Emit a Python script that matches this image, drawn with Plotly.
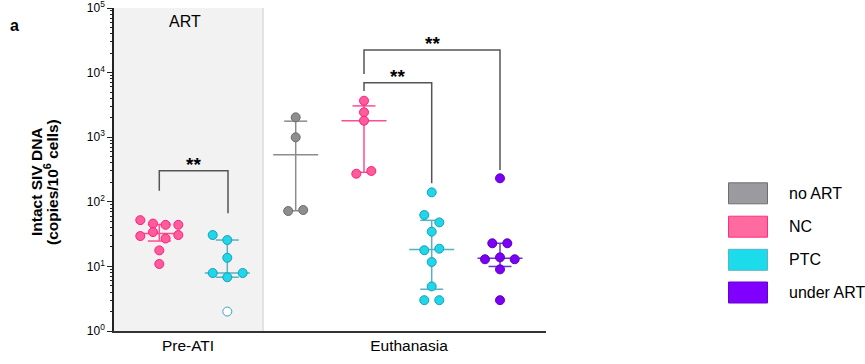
import numpy as np
import plotly.graph_objects as go

# Intact SIV DNA (copies per 10^6 cells) for each animal
nc_pre = [52, 46, 44, 44, 29.5, 34, 27, 30.6, 17.7, 10.9]
ptc_pre = [30.6, 25.6, 13.6, 7.9, 6.8, 7.9, 2.0]
ptc_pre_below_lod = [False, False, False, False, False, False, True]
noart_euth = [2030, 996, 72, 74.6]
nc_euth = [3670, 2430, 1800, 272, 300]
ptc_euth = [140, 62.5, 48, 34.5, 17.8, 18.8, 11.7, 4.9, 3.0, 3.0]
underart_euth = [231, 22.8, 22.8, 12.9, 13.8, 12.9, 9.0, 3.0]

timepoints = ["Pre-ATI", "Euthanasia"]
group_names = ["no ART", "NC", "PTC", "under ART"]
shade_label = "ART"
panel_label = "a"
y_title = ["Intact SIV DNA", "(copies/10<sup>6</sup> cells)"]
y_tickvals = [1, 10, 100, 1000, 10000, 100000]
y_ticktext = ["10<sup>%d</sup>" % i for i in range(6)]
sig_labels = ["**", "**", "**"]

# ---- styling / layout ----
FONT = "Liberation Sans, Arial, sans-serif"
W, H = 865, 364
L, R, T, B = 114, 546, 8, 331          # plot area in pixels
PW, PH = R - L, B - T
Y_RANGE = [0, 5.000001]                # 10^0 .. 10^5 (log10 units)

STYLE = {
    "no ART":    dict(fill="#8e8e8e", edge="#6c6c6c", line="#8c8c8c",
                      box="#9b9b9f", boxedge="#6e6e72"),
    "NC":        dict(fill="#ff5c9d", edge="#ff1f7a", line="#ff4d94",
                      box="#ff6b9e", boxedge="#ff2e85"),
    "PTC":       dict(fill="#1fd6ea", edge="#1a9fb6", line="#55b2c2",
                      box="#1cdcec", boxedge="#5ab4c4"),
    "under ART": dict(fill="#7b00f5", edge="#5c00c0", line="#6b34c4",
                      box="#7f00ff", boxedge="#6600cc"),
}


def px_x(p):
    return p - L


def paper_x(p):
    return (p - L) / PW


def paper_y(p):
    return (B - p) / PH


# column centres (pixels) and swarm offsets (pixels)
columns = [
    dict(name="NC", vals=nc_pre, cx=159.3,
         dx=[-19, -6.3, 6.3, 19, -19, -6.3, 6.3, 19, 0, 0]),
    dict(name="PTC", vals=ptc_pre, cx=227.3,
         dx=[-14.6, 0, 0, -14.6, 0, 15.4, 0], hollow=ptc_pre_below_lod),
    dict(name="no ART", vals=noart_euth, cx=295.7, dx=[0, 0, -7.5, 7.5]),
    dict(name="NC", vals=nc_euth, cx=364.0, dx=[0, 0, 0, -7.7, 7.3]),
    dict(name="PTC", vals=ptc_euth, cx=431.7,
         dx=[0, -7.4, 7.6, 0, -7.4, 7.6, 0, 0, -7.4, 7.6]),
    dict(name="under ART", vals=underart_euth, cx=500.0,
         dx=[0, -7.7, 7.3, -15, 0, 14.7, 0, 0]),
]

MED_HALF, CAP_HALF = 22.5, 11.5

fig = go.Figure()

for col in columns:
    st = STYLE[col["name"]]
    c = px_x(col["cx"])
    v = np.asarray(col["vals"], dtype=float)
    q1, med, q3 = np.percentile(v, [25, 50, 75], method="weibull")
    # median with interquartile range
    xs = [c - MED_HALF, c + MED_HALF, None,
          c - CAP_HALF, c + CAP_HALF, None,
          c - CAP_HALF, c + CAP_HALF, None,
          c, c]
    ys = [med, med, None, q3, q3, None, q1, q1, None, q1, q3]
    fig.add_trace(go.Scatter(x=xs, y=ys, mode="lines",
                             line=dict(color=st["line"], width=1.5),
                             hoverinfo="skip", showlegend=False))
    hollow = col.get("hollow", [False] * len(v))
    fills = ["white" if h else st["fill"] for h in hollow]
    edges = ["#3aa6bd" if h else st["edge"] for h in hollow]
    fig.add_trace(go.Scatter(
        x=[c + d for d in col["dx"]], y=v, mode="markers",
        marker=dict(size=9, color=fills, line=dict(color=edges, width=1)),
        name=col["name"], showlegend=False))

# significance brackets: (left px, right px, left foot, top, right foot)
brackets = [
    (159.3, 228.0, 148, 303, 66.4, sig_labels[0]),
    (364.0, 431.7, 5190, 6980, 193, sig_labels[1]),
    (364.0, 500.0, 9510, 22400, 311, sig_labels[2]),
]
for xl, xr, yl, yt, yr, lab in brackets:
    a, b = px_x(xl), px_x(xr)
    fig.add_trace(go.Scatter(x=[a, a, b, b], y=[yl, yt, yt, yr], mode="lines",
                             line=dict(color="#555555", width=1.5),
                             hoverinfo="skip", showlegend=False))
    fig.add_annotation(x=(a + b) / 2, y=np.log10(yt), xref="x", yref="y",
                       text="<b>%s</b>" % lab, showarrow=False,
                       yanchor="bottom", yshift=-6,
                       font=dict(family=FONT, size=19, color="black"))

# minor-tick carrier axis
fig.add_trace(go.Scatter(x=[None], y=[None], yaxis="y2", mode="markers",
                         hoverinfo="skip", showlegend=False))

shapes = [
    # shaded ART period
    dict(type="rect", xref="x", yref="paper", x0=0, x1=px_x(263), y0=0, y1=1,
         fillcolor="#f2f2f2", line=dict(width=0), layer="below"),
    dict(type="line", xref="x", yref="paper", x0=px_x(263), x1=px_x(263),
         y0=0, y1=1, line=dict(color="#e3e3e3", width=2), layer="below"),
]

annotations = [
    dict(x=paper_x(184.5), y=paper_y(22), text=shade_label, font_size=16),
    dict(x=paper_x(14), y=paper_y(25), text="<b>%s</b>" % panel_label,
         font_size=16),
    dict(x=paper_x(36), y=paper_y(182), text="<b>%s</b>" % y_title[0],
         textangle=-90, font_size=15.5),
    dict(x=paper_x(51), y=paper_y(182), text="<b>%s</b>" % y_title[1],
         textangle=-90, font_size=15.5),
]

# legend drawn as colour boxes with labels
legend_rows = [193.3, 226.7, 259.8, 292.5]
for name, yc in zip(group_names, legend_rows):
    st = STYLE[name]
    shapes.append(dict(type="rect", xref="paper", yref="paper",
                       x0=paper_x(728.5), x1=paper_x(767.5),
                       y0=paper_y(yc + 10.5), y1=paper_y(yc - 10.5),
                       fillcolor=st["box"],
                       line=dict(color=st["boxedge"], width=1)))
    annotations.append(dict(x=paper_x(787), y=paper_y(yc), text=name,
                            xanchor="left", font_size=16))

for a in annotations:
    a.setdefault("xref", "paper")
    a.setdefault("yref", "paper")
    a.setdefault("showarrow", False)
    a.setdefault("xanchor", "center")
    a.setdefault("yanchor", "middle")
    fs = a.pop("font_size")
    a["font"] = dict(family=FONT, size=fs, color="black")
    fig.add_annotation(**a)

minor_vals = [k * 10 ** e for e in range(5) for k in range(2, 10)]

fig.update_layout(
    width=W, height=H, autosize=False,
    margin=dict(l=L, r=W - R, t=T, b=H - B, pad=0, autoexpand=False),
    plot_bgcolor="white", paper_bgcolor="white",
    font=dict(family=FONT, color="black"),
    shapes=shapes, showlegend=False,
    xaxis=dict(range=[0, PW], showgrid=False, zeroline=False,
               automargin=False,
               showline=True, linecolor="#333333", linewidth=1.5,
               ticks="", tickvals=[px_x(188), px_x(409)],
               ticktext=timepoints, tickfont=dict(size=15.5, family=FONT)),
    yaxis=dict(type="log", range=Y_RANGE, showgrid=False, zeroline=False,
               automargin=False,
               showline=True, linecolor="#222222", linewidth=1.5,
               ticks="outside", ticklen=5, tickwidth=1.2, tickcolor="#222222",
               tickvals=y_tickvals, ticktext=y_ticktext,
               ticklabeloverflow="allow",
               tickfont=dict(size=12, family=FONT)),
    yaxis2=dict(type="log", range=Y_RANGE, overlaying="y", side="left",
                anchor="x", showgrid=False, zeroline=False, showline=False,
                automargin=False,
                ticks="outside", ticklen=3, tickwidth=1, tickcolor="#222222",
                tickvals=minor_vals, showticklabels=False),
)

fig.write_html("out.html")
